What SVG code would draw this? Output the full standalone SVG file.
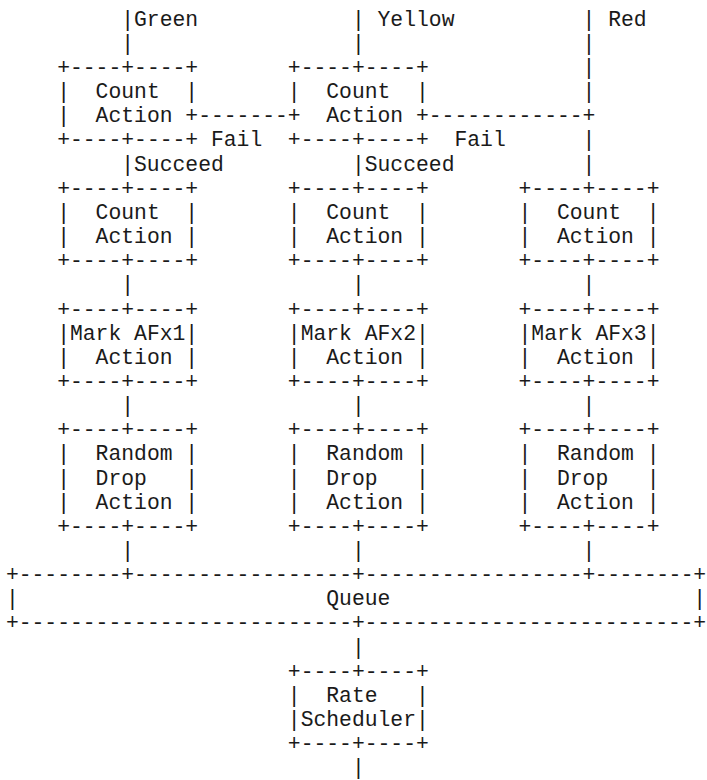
<svg xmlns="http://www.w3.org/2000/svg" width="707" height="780" viewBox="0 0 707 780" xml:space="preserve">
<style>
text { font-family: "Liberation Mono", "Courier New", monospace; font-size: 21.36px; fill: #1a1a1a; white-space: pre; }
.e { text-anchor: end; }
</style>
<rect width="707" height="780" fill="#ffffff"/>
<g id="connectors">
<text x="121.24" y="25.7">|Green</text>
<text x="351.91" y="25.7">| Yellow</text>
<text x="582.58" y="25.7">| Red</text>
<text x="121.24" y="49.85">|</text>
<text x="351.91" y="49.85">|</text>
<text x="582.58" y="49.85">|</text>
<text x="582.58" y="74.0">|</text>
<text x="582.58" y="98.15">|</text>
<text x="198.13" y="122.3">-------</text>
<text x="428.8" y="122.3">------------+</text>
<text x="210.94" y="146.45">Fail</text>
<text x="454.43" y="146.45">Fail</text>
<text x="582.58" y="146.45">|</text>
<text x="121.24" y="170.6">|Succeed</text>
<text x="351.91" y="170.6">|Succeed</text>
<text x="582.58" y="170.6">|</text>
<text x="121.24" y="291.35">|</text>
<text x="351.91" y="291.35">|</text>
<text x="582.58" y="291.35">|</text>
<text x="121.24" y="412.1">|</text>
<text x="351.91" y="412.1">|</text>
<text x="582.58" y="412.1">|</text>
<text x="121.24" y="557.0">|</text>
<text x="351.91" y="557.0">|</text>
<text x="582.58" y="557.0">|</text>
<text x="351.91" y="653.6">|</text>
<text x="351.91" y="774.35">|</text>
</g>
<g id="count-green-1">
<text x="57.16" y="74.0">+----+----+</text>
<text x="57.16" y="98.15">|  Count  |</text>
<text x="57.16" y="122.3">|  Action +</text>
<text x="57.16" y="146.45">+----+----+</text>
</g>
<g id="count-yellow-1">
<text x="287.83" y="74.0">+----+----+</text>
<text x="287.83" y="98.15">|  Count  |</text>
<text x="287.83" y="122.3">+  Action +</text>
<text x="287.83" y="146.45">+----+----+</text>
</g>
<g id="count-green-2">
<text x="57.16" y="194.75">+----+----+</text>
<text x="57.16" y="218.9">|  Count  |</text>
<text x="57.16" y="243.05">|  Action |</text>
<text x="57.16" y="267.2">+----+----+</text>
</g>
<g id="count-yellow-2">
<text x="287.83" y="194.75">+----+----+</text>
<text x="287.83" y="218.9">|  Count  |</text>
<text x="287.83" y="243.05">|  Action |</text>
<text x="287.83" y="267.2">+----+----+</text>
</g>
<g id="count-red">
<text x="518.5" y="194.75">+----+----+</text>
<text x="518.5" y="218.9">|  Count  |</text>
<text x="518.5" y="243.05">|  Action |</text>
<text x="518.5" y="267.2">+----+----+</text>
</g>
<g id="mark-afx1">
<text x="57.16" y="315.5">+----+----+</text>
<text x="57.16" y="339.65">|Mark AFx1|</text>
<text x="57.16" y="363.8">|  Action |</text>
<text x="57.16" y="387.95">+----+----+</text>
</g>
<g id="mark-afx2">
<text x="287.83" y="315.5">+----+----+</text>
<text x="287.83" y="339.65">|Mark AFx2|</text>
<text x="287.83" y="363.8">|  Action |</text>
<text x="287.83" y="387.95">+----+----+</text>
</g>
<g id="mark-afx3">
<text x="518.5" y="315.5">+----+----+</text>
<text x="518.5" y="339.65">|Mark AFx3|</text>
<text x="518.5" y="363.8">|  Action |</text>
<text x="518.5" y="387.95">+----+----+</text>
</g>
<g id="drop-1">
<text x="57.16" y="436.25">+----+----+</text>
<text x="57.16" y="460.4">|  Random |</text>
<text x="57.16" y="484.55">|  Drop   |</text>
<text x="57.16" y="508.7">|  Action |</text>
<text x="57.16" y="532.85">+----+----+</text>
</g>
<g id="drop-2">
<text x="287.83" y="436.25">+----+----+</text>
<text x="287.83" y="460.4">|  Random |</text>
<text x="287.83" y="484.55">|  Drop   |</text>
<text x="287.83" y="508.7">|  Action |</text>
<text x="287.83" y="532.85">+----+----+</text>
</g>
<g id="drop-3">
<text x="518.5" y="436.25">+----+----+</text>
<text x="518.5" y="460.4">|  Random |</text>
<text x="518.5" y="484.55">|  Drop   |</text>
<text x="518.5" y="508.7">|  Action |</text>
<text x="518.5" y="532.85">+----+----+</text>
</g>
<g id="queue">
<text x="5.9" y="581.15">+--------+-----------------+-----------------</text>
<text x="582.58" y="581.15" textLength="123.4" lengthAdjust="spacing">+--------+</text>
<text x="5.9" y="605.3">|</text>
<text x="326.28" y="605.3">Queue</text>
<text class="e" x="706" y="605.3">|</text>
<text x="5.9" y="629.45">+--------------------------</text>
<text x="351.91" y="629.45" textLength="354.1" lengthAdjust="spacing">+--------------------------+</text>
</g>
<g id="rate-scheduler">
<text x="287.83" y="677.75">+----+----+</text>
<text x="287.83" y="701.9">|  Rate   |</text>
<text x="287.83" y="726.05">|Scheduler|</text>
<text x="287.83" y="750.2">+----+----+</text>
</g>
</svg>
